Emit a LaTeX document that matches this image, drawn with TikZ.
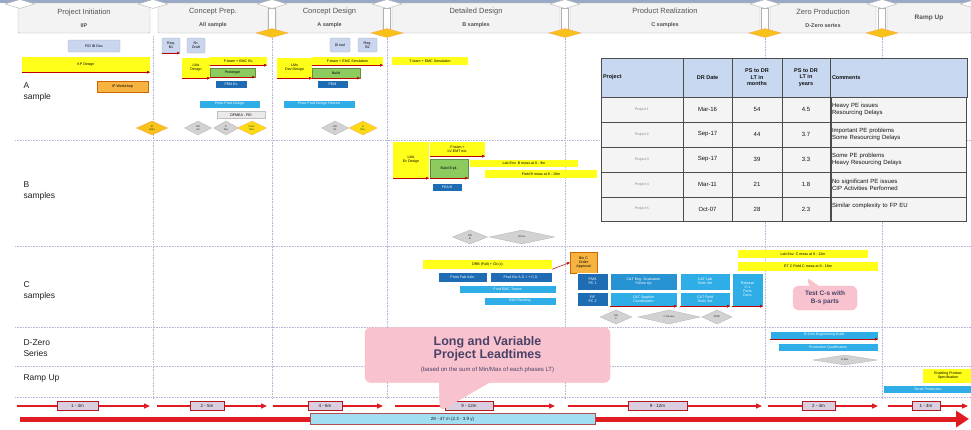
\documentclass[tikz,border=0pt]{standalone}
\usepackage{fontspec}
\setmainfont{Liberation Sans}
\usetikzlibrary{shapes.geometric, shapes.callouts, arrows.meta, positioning}

\definecolor{hdrfill}{HTML}{F3F3F3}
\definecolor{topstripe}{HTML}{9AAAC6}
\definecolor{barYellow}{HTML}{FFFF1A}
\definecolor{barGreen}{HTML}{8CCB5E}
\definecolor{barDark}{HTML}{1E6DB4}
\definecolor{barCyan}{HTML}{2EADE6}
\definecolor{barLight}{HTML}{C9D6EE}
\definecolor{barOrange}{HTML}{F6B340}
\definecolor{gateYellow}{HTML}{F7C21A}
\definecolor{calloutPink}{HTML}{F8C3CF}
\definecolor{leadRed}{HTML}{E01B22}
\definecolor{tabHead}{HTML}{C7D8F0}
\definecolor{tabCell}{HTML}{F4F4F4}
\definecolor{gridLine}{HTML}{B4B8D8}
\definecolor{textDark}{HTML}{4A4266}

\begin{document}
\begin{tikzpicture}[x=1pt, y=-1pt,
    phase/.style={draw=gray!60, fill=hdrfill, rounded corners=1pt, minimum height=30pt, inner sep=0pt, align=center, font=\fontsize{7.5}{8}\selectfont, text=gray!65!black},
    gatetop/.style={diamond, draw=gray!60, fill=white, minimum width=30pt, minimum height=9pt, inner sep=0pt},
    gatepost/.style={draw=gray!60, fill=white, minimum width=7pt, minimum height=22pt, inner sep=0pt},
    gatebot/.style={diamond, draw=orange!70, fill=gateYellow, minimum width=32pt, minimum height=9pt, inner sep=0pt},
    bar/.style={rectangle, inner sep=0pt, align=center, font=\fontsize{3.6}{4}\selectfont},
    ybar/.style={bar, fill=barYellow},
    gbar/.style={bar, fill=barGreen, draw=barGreen!70!black, line width=0.2pt},
    dbar/.style={bar, fill=barDark, draw=white, line width=0.4pt, text=white},
    cbar/.style={bar, fill=barCyan, draw=white, line width=0.4pt, text=white},
    lbar/.style={bar, fill=barLight, draw=barLight!80!black, line width=0.2pt, rounded corners=1pt},
    obar/.style={bar, fill=barOrange, draw=orange!80!black, line width=0.2pt},
    mstone/.style={diamond, draw=gray!55, fill=gray!35, minimum height=14pt, inner sep=0pt, align=center, font=\fontsize{2.5}{3}\selectfont, text=gray!30!black},
    ymstone/.style={mstone, draw=orange!60, fill=gateYellow!60!yellow},
    rowlabel/.style={anchor=west, align=left, font=\fontsize{8.5}{11}\selectfont, text=gray!25!black},
    gridline/.style={gridLine, densely dotted, line width=0.6pt},
    smallarr/.style={-{Triangle[length=3pt,width=2.5pt]}, red!75!black, line width=0.5pt},
    phasearr/.style={leadRed, line width=1.3pt, -{Triangle[length=6pt,width=5pt]}},
    durbox/.style={draw=leadRed!80!black, fill=barLight!70!pink, minimum height=9pt, inner sep=0pt, font=\fontsize{4.5}{5}\selectfont, text=gray!20!black},
    cell/.style={draw=gray!60!black, fill=tabCell, inner sep=1pt, align=center, font=\fontsize{6}{7}\selectfont, text=gray!15!black},
    headcell/.style={cell, fill=tabHead, font=\fontsize{5.5}{6.5}\selectfont\bfseries},
    callpink/.style={rectangle callout, fill=calloutPink, draw=pink!60!red!50, rounded corners=6pt, align=center, text=textDark}
]
    \useasboundingbox (0,0) rectangle (971,429);
    \fill[white] (0,0) rectangle (971,429);
    \fill[topstripe] (0,0) rectangle (971,2.5);

    % Grid
    \foreach \gy in {140,246,327,366,397}
        \draw[gridline] (15,\gy) -- (971,\gy);
    \foreach \gx in {153,272,387,565,765,882}
        \draw[gridline] (\gx,36) -- (\gx,398);

    % Phase headers
    \node[phase, minimum width=132pt] (pinit) at (84,18) {Project Initiation\\[5pt]{\bfseries\fontsize{5.5}{6}\selectfont IIP}};
    \node[phase, minimum width=110pt] (cprep) at (213,18) {Concept Prep.\\[5pt]{\bfseries\fontsize{5.5}{6}\selectfont All sample}};
    \node[phase, minimum width=107pt] (cdesign) at (329.5,18) {Concept Design\\[5pt]{\bfseries\fontsize{5.5}{6}\selectfont A sample}};
    \node[phase, minimum width=168pt] (ddesign) at (476,18) {Detailed Design\\[5pt]{\bfseries\fontsize{5.5}{6}\selectfont B samples}};
    \node[phase, minimum width=190pt] (preal) at (665,18) {Product Realization\\[5pt]{\bfseries\fontsize{5.5}{6}\selectfont C samples}};
    \node[phase, minimum width=106pt] (zprod) at (823,18) {Zero Production\\[5pt]{\bfseries\fontsize{5.5}{6}\selectfont D-Zero series}};
    \node[phase, minimum width=84pt] (ramp) at (929,18) {{\bfseries\fontsize{6.5}{7}\selectfont Ramp Up}};

    % Gates
    \node[gatetop] (gt0) at (20,4) {};
    \node[gatetop] (gt1) at (153,4) {};
    \node[gatepost] (gp2) at (272,19) {};
    \node[gatetop] (gt2) at (272,4) {};
    \node[gatebot] (gb2) at (272,33) {};
    \node[gatepost] (gp3) at (387,19) {};
    \node[gatetop] (gt3) at (387,4) {};
    \node[gatebot] (gb3) at (387,33) {};
    \node[gatepost] (gp4) at (565,19) {};
    \node[gatetop] (gt4) at (565,4) {};
    \node[gatebot] (gb4) at (565,33) {};
    \node[gatepost] (gp5) at (765,19) {};
    \node[gatetop] (gt5) at (765,4) {};
    \node[gatebot] (gb5) at (765,33) {};
    \node[gatepost] (gp6) at (882,19) {};
    \node[gatetop] (gt6) at (882,4) {};
    \node[gatebot] (gb6) at (882,33) {};
    \node[gatetop] (gt7) at (975,4) {};

    % Row labels
    \node[rowlabel] (lbla) at (20,92) {A\\sample};
    \node[rowlabel] (lblb) at (20,191) {B\\samples};
    \node[rowlabel] (lblc) at (20,291) {C\\samples};
    \node[rowlabel] (lbld) at (20,348) {D-Zero\\Series};
    \node[rowlabel] (lblr) at (20,378) {Ramp Up};

    % A sample row
    \node[lbar, minimum width=52pt, minimum height=12pt] (fidoc) at (94,46) {FID IB Doc};
    \node[ybar, minimum width=128pt, minimum height=15pt] (kpdesign) at (86,64.5) {KP Design};
    \node[obar, minimum width=51pt, minimum height=11pt] (ipws) at (122.5,86.5) {IP Workshop};
    \node[lbar, minimum width=18pt, minimum height=15pt] (reqa) at (171,45.5) {Req.\\B1};
    \node[lbar, minimum width=18pt, minimum height=15pt] (shdraft) at (196,45.5) {Sh.\\Draft};
    \node[ybar, minimum width=28pt, minimum height=20pt] (lmsdes) at (196,68) {LMs\\Design};
    \node[ybar, minimum width=57pt, minimum height=8pt] (fteama) at (238.5,61) {F-team + EMC Ev.};
    \node[gbar, minimum width=45pt, minimum height=9pt] (protoa) at (232.5,72.5) {Prototype};
    \node[dbar, minimum width=32pt, minimum height=8pt] (fema) at (231.5,84) {FEM Ex.};
    \node[cbar, minimum width=61pt, minimum height=8pt] (prodesa) at (229.5,104) {Proto Prod Design};
    \node[bar, fill=pink!25!gray!20, draw=gray!50, minimum width=48pt, minimum height=7pt] (dfmea) at (241,115) {DFMEA - FEI};
    \node[lbar, minimum width=20pt, minimum height=14pt] (ditool) at (340,45) {DI tool};
    \node[lbar, minimum width=19pt, minimum height=14pt] (reqb) at (367.5,45) {Req.\\B2};
    \node[ybar, minimum width=35pt, minimum height=20pt] (lmsdev) at (294.5,68) {LMs\\Dev Design};
    \node[ybar, minimum width=71pt, minimum height=8pt] (fteamb) at (347.5,61) {F-team + EMC Simulation};
    \node[gbar, minimum width=48pt, minimum height=10pt] (builda) at (336,73) {Build};
    \node[dbar, minimum width=31pt, minimum height=8pt] (femb) at (332.5,84) {FEM};
    \node[cbar, minimum width=72pt, minimum height=8pt] (prodesb) at (319,104) {Proto Prod Design Review};
    \node[ybar, minimum width=76pt, minimum height=8pt] (tteam) at (430,61) {T-team + EMC Simulation};
    \node[mstone, draw=orange!70, fill=gateYellow, minimum width=31pt] (msip) at (152,128) {IP\\Gate};
    \node[mstone, minimum width=27pt] (msa1) at (198,128) {DR\\A0};
    \node[mstone, minimum width=25pt] (msa2) at (226,128) {P\\Rev};
    \node[ymstone, minimum width=29pt] (msa3) at (252,128) {Conc.\\Rev.};
    \node[mstone, minimum width=27pt] (msa4) at (335,128) {DR\\A1};
    \node[ymstone, minimum width=28pt] (msa5) at (363,128) {A\\Rev.};
    \draw[smallarr] (kpdesign.south west) -- (kpdesign.south east);
    \draw[smallarr] (reqa.south west) -- (reqa.south east);
    \draw[smallarr] (lmsdes.south west) -- (lmsdes.south east);
    \draw[smallarr] (protoa.south west) -- (protoa.south east);
    \draw[smallarr] (fteama.south west) -- (fteama.south east);
    \draw[smallarr] (lmsdev.south west) -- (lmsdev.south east);
    \draw[smallarr] (fteamb.south west) -- (fteamb.south east);
    \draw[smallarr] (builda.south west) -- (builda.south east);

    % B samples row
    \node[ybar, minimum width=36pt, minimum height=36pt] (lmsex) at (411,160) {LMs\\Ex Design};
    \node[ybar, minimum width=55pt, minimum height=14pt] (fteamc) at (457.5,149) {F-team +\\LV-EMT ext.};
    \node[gbar, minimum width=38pt, minimum height=19pt] (buildb) at (449,168.5) {Build B pil.};
    \node[dbar, minimum width=30pt, minimum height=8pt] (fea) at (447,187) {FEA/S};
    \node[ybar, minimum width=108pt, minimum height=7pt] (labb) at (524,163.5) {Lab Env. B meas at 8 - 9m};
    \node[ybar, minimum width=112pt, minimum height=8pt] (fieldb) at (541,174) {Field B meas at 8 - 10m};
    \node[mstone, minimum width=35pt] (msb1) at (470,237) {DR\\B};
    \node[mstone, minimum width=65pt] (msb2) at (522,237) {B Rev.};
    \draw[smallarr] (fteamc.south west) -- (fteamc.south east);
    \draw[smallarr] (lmsex.south west) -- (lmsex.south east);
    \draw[smallarr] (buildb.south west) -- (buildb.south east);

    % C samples row
    \node[ybar, minimum width=129pt, minimum height=9pt] (drb) at (487.5,264.5) {DRB (Full) + Cb (c)};
    \node[dbar, minimum width=49pt, minimum height=10pt] (profab) at (462.5,277) {Proto Fab Ashr};
    \node[dbar, minimum width=62pt, minimum height=10pt] (prodext) at (521,277) {Prod Ext A.S. I + C.S.};
    \node[cbar, minimum width=97pt, minimum height=8pt] (emcteam) at (507.5,289) {Prod EMC Teams};
    \node[cbar, minimum width=72pt, minimum height=8pt] (emiplan) at (520,301) {EMI Planning};
    \node[obar, minimum width=27pt, minimum height=21pt] (binc) at (583.5,262.5) {Bin C\\Order\\Approval};
    \node[dbar, minimum width=31pt, minimum height=17pt] (pmspc) at (592.5,281.5) {PMS\\PC 1};
    \node[dbar, minimum width=31pt, minimum height=14pt] (fifpc) at (592.5,299) {FIF\\PC 2};
    \node[dbar, fill=barCyan!60!barDark, minimum width=67pt, minimum height=17pt] (cteval) at (643.5,281.5) {C\&T Eng. Evaluation\\Follow Up};
    \node[cbar, minimum width=67pt, minimum height=14pt] (ctsup) at (643.5,299) {C\&T Supplier\\Coordination};
    \node[cbar, minimum width=50pt, minimum height=17pt] (ctlab) at (705,281.5) {C\&T Lab\\Tests Set};
    \node[cbar, minimum width=50pt, minimum height=14pt] (ctfld) at (705,299) {C\&T Field\\Tests Set};
    \node[cbar, minimum width=31pt, minimum height=33pt] (ctrel) at (747.5,289.5) {Release\\C-s\\Parts\\Docs};
    \node[ybar, minimum width=130pt, minimum height=8pt] (labc) at (803,254) {Lab Env. C meas at 9 - 12m};
    \node[ybar, minimum width=140pt, minimum height=9pt] (fieldc) at (808,266.5) {ET C Field C meas at 9 - 18m};
    \node[callpink, minimum width=64pt, minimum height=24pt, callout pointer width=8pt, font=\fontsize{6.5}{8}\selectfont\bfseries, callout absolute pointer={(806,277)}] (testc) at (825,298) {Test C-s with\\B-s parts};
    \node[mstone, minimum width=32pt] (msc1) at (616,317) {DR\\C};
    \node[mstone, minimum width=62pt] (msc2) at (669,317) {C Review};
    \node[mstone, minimum width=30pt] (msc3) at (717,317) {PPAP};
    \draw[smallarr] (drb.south east) -- (binc.west);
    \draw[smallarr] (ctsup.south west) -- (ctsup.south east);
    \draw[smallarr] (ctfld.south west) -- (ctfld.south east);
    \draw[smallarr] (ctrel.south west) -- (ctrel.south east);

    % D-Zero and Ramp Up rows
    \node[cbar, minimum width=108pt, minimum height=8pt] (dzbuild) at (824,335) {D-Zero Engineering Build};
    \node[cbar, minimum width=100pt, minimum height=8pt] (dzqual) at (828,347.5) {Production Qualification};
    \node[mstone, minimum width=64pt, minimum height=10pt] (msd) at (845,360) {D Rev.};
    \node[ybar, minimum width=50pt, minimum height=14pt] (rampspec) at (948,375.5) {Enabling Product\\Specification};
    \node[cbar, minimum width=90pt, minimum height=8pt] (rampprod) at (928,389) {Serial Production};
    \draw[smallarr] (dzbuild.south west) -- (dzbuild.south east);

    % Results table
    \node[headcell, minimum width=82pt, minimum height=39pt, align=left, text width=78pt] (thproj) at (642,77.5) {Project};
    \node[headcell, minimum width=49pt, minimum height=39pt] (thdate) at (707.5,77.5) {DR Date};
    \node[headcell, minimum width=50pt, minimum height=39pt] (thmon) at (757,77.5) {PS to DR\\LT in\\months};
    \node[headcell, minimum width=48pt, minimum height=39pt] (thyr) at (806,77.5) {PS to DR\\LT in\\years};
    \node[headcell, minimum width=137pt, minimum height=39pt, align=left, text width=133pt] (thcom) at (898.5,77.5) {Comments};

    \node[cell, minimum width=82pt, minimum height=25pt, font=\fontsize{3.5}{4}\selectfont, text=gray] (p1) at (642,109.5) {Project 1};
    \node[cell, minimum width=49pt, minimum height=25pt] (d1) at (707.5,109.5) {Mar-16};
    \node[cell, minimum width=50pt, minimum height=25pt] (m1) at (757,109.5) {54};
    \node[cell, minimum width=48pt, minimum height=25pt] (y1) at (806,109.5) {4.5};
    \node[cell, align=left, text width=133pt, minimum height=25pt] (c1) at (898.5,109.5) {Heavy PE issues\\Resourcing Delays};

    \node[cell, minimum width=82pt, minimum height=25pt, font=\fontsize{3.5}{4}\selectfont, text=gray] (p2) at (642,134.5) {Project 2};
    \node[cell, minimum width=49pt, minimum height=25pt] (d2) at (707.5,134.5) {Sep-17};
    \node[cell, minimum width=50pt, minimum height=25pt] (m2) at (757,134.5) {44};
    \node[cell, minimum width=48pt, minimum height=25pt] (y2) at (806,134.5) {3.7};
    \node[cell, align=left, text width=133pt, minimum height=25pt] (c2) at (898.5,134.5) {Important PE problems\\Some Resourcing Delays};

    \node[cell, minimum width=82pt, minimum height=25pt, font=\fontsize{3.5}{4}\selectfont, text=gray] (p3) at (642,159.5) {Project 3};
    \node[cell, minimum width=49pt, minimum height=25pt] (d3) at (707.5,159.5) {Sep-17};
    \node[cell, minimum width=50pt, minimum height=25pt] (m3) at (757,159.5) {39};
    \node[cell, minimum width=48pt, minimum height=25pt] (y3) at (806,159.5) {3.3};
    \node[cell, align=left, text width=133pt, minimum height=25pt] (c3) at (898.5,159.5) {Some PE problems\\Heavy Resourcing Delays};

    \node[cell, minimum width=82pt, minimum height=25pt, font=\fontsize{3.5}{4}\selectfont, text=gray] (p4) at (642,184.5) {Project 4};
    \node[cell, minimum width=49pt, minimum height=25pt] (d4) at (707.5,184.5) {Mar-11};
    \node[cell, minimum width=50pt, minimum height=25pt] (m4) at (757,184.5) {21};
    \node[cell, minimum width=48pt, minimum height=25pt] (y4) at (806,184.5) {1.8};
    \node[cell, align=left, text width=133pt, minimum height=25pt] (c4) at (898.5,184.5) {No significant PE issues\\CIP Activities Performed};

    \node[cell, minimum width=82pt, minimum height=24pt, font=\fontsize{3.5}{4}\selectfont, text=gray] (p5) at (642,209) {Project 5};
    \node[cell, minimum width=49pt, minimum height=24pt] (d5) at (707.5,209) {Oct-07};
    \node[cell, minimum width=50pt, minimum height=24pt] (m5) at (757,209) {28};
    \node[cell, minimum width=48pt, minimum height=24pt] (y5) at (806,209) {2.3};
    \node[cell, align=left, text width=133pt, minimum height=24pt] (c5) at (898.5,209) {Similar complexity to FP EU\\\mbox{}};

    % Phase lead time arrows
    \coordinate (a1s) at (17,406);  \coordinate (a1e) at (150,406);
    \coordinate (a2s) at (157,406); \coordinate (a2e) at (267,406);
    \coordinate (a3s) at (273,406); \coordinate (a3e) at (383,406);
    \coordinate (a4s) at (395,406); \coordinate (a4e) at (555,406);
    \coordinate (a5s) at (568,406); \coordinate (a5e) at (762,406);
    \coordinate (a6s) at (768,406); \coordinate (a6e) at (878,406);
    \coordinate (a7s) at (888,406); \coordinate (a7e) at (968,406);
    \draw[phasearr] (a1s) -- (a1e);
    \draw[phasearr] (a2s) -- (a2e);
    \draw[phasearr] (a3s) -- (a3e);
    \draw[phasearr] (a4s) -- (a4e);
    \draw[phasearr] (a5s) -- (a5e);
    \draw[phasearr] (a6s) -- (a6e);
    \draw[phasearr] (a7s) -- (a7e);
    \node[durbox, minimum width=41pt] (dur1) at (77.5,406) {1 - 4m};
    \node[durbox, minimum width=34pt] (dur2) at (207,406) {2 - 5m};
    \node[durbox, minimum width=34pt] (dur3) at (325,406) {4 - 6m};
    \node[durbox, minimum width=48pt] (dur4) at (469,406) {9 - 12m};
    \node[durbox, minimum width=59pt] (dur5) at (657.5,406) {9 - 12m};
    \node[durbox, minimum width=33pt] (dur6) at (818.5,406) {2 - 4m};
    \node[durbox, minimum width=28pt] (dur7) at (926,406) {1 - 4m};

    % Total lead time
    \coordinate (lts) at (20,419);
    \coordinate (lte) at (969,419);
    \draw[leadRed, line width=5pt, -{Triangle[length=13pt,width=16pt]}] (lts) -- (lte);
    \node[durbox, fill=barLight!80!cyan, draw=leadRed!50!gray, minimum width=285pt, minimum height=11pt] (ltbox) at (452.5,419) {28 - 47 m (2.3 - 3.9 y)};

    % Callout
    \node[callpink, minimum width=245pt, minimum height=55pt, callout pointer width=50pt, callout absolute pointer={(440,411)}] (leadnote) at (487.5,355)
        {{\bfseries\fontsize{12.5}{14}\selectfont Long and Variable}\\[1pt]
         {\bfseries\fontsize{12.5}{14}\selectfont Project Leadtimes}\\[1pt]
         {\fontsize{6}{7}\selectfont (based on the sum of Min/Max of each phases LT)}};
\end{tikzpicture}
\end{document}
